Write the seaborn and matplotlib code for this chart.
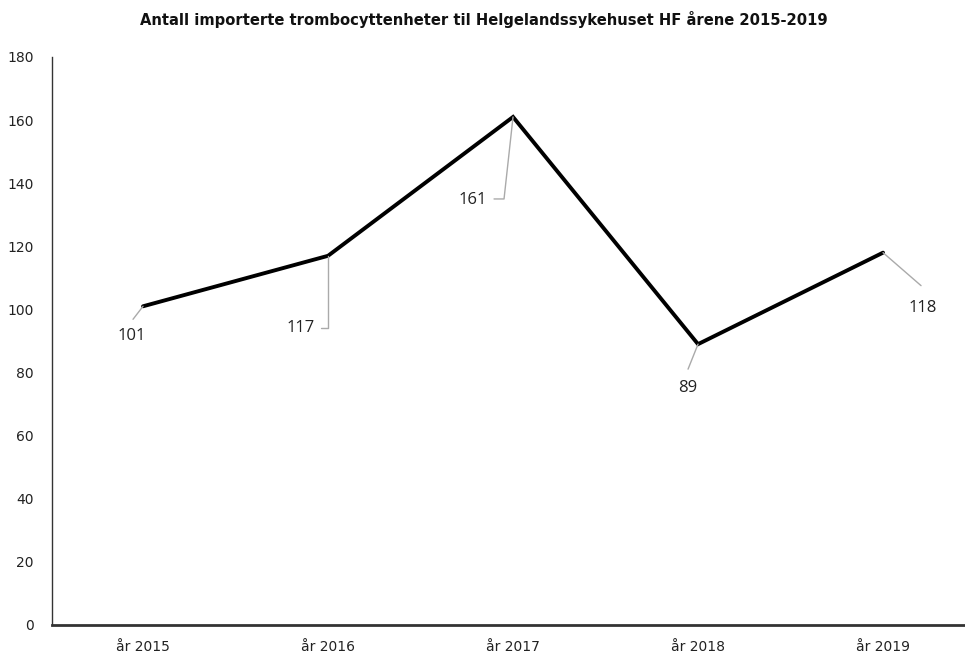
import matplotlib
matplotlib.use("Agg")
import matplotlib.pyplot as plt
import matplotlib.transforms as mtrans
import seaborn as sns
import pandas as pd

categories = ["år 2015", "år 2016", "år 2017", "år 2018", "år 2019"]
values = [101, 117, 161, 89, 118]
yticks = [0, 20, 40, 60, 80, 100, 120, 140, 160, 180]
title = "Antall importerte trombocyttenheter til Helgelandssykehuset HF årene 2015-2019"

sns.set_theme(style="white")
plt.rcParams['font.family'] = ['DejaVu Sans']

df = pd.DataFrame({"pos": range(len(categories)), "value": values})

fig = plt.figure(figsize=(9.65, 6.57), dpi=100)
ax = fig.add_axes([52/965, 32/657, 1 - 52/965, (625-57)/657])

sns.lineplot(data=df, x="pos", y="value", ax=ax, color="black", linewidth=2.8,
             solid_joinstyle="miter")

ax.set_xlim(-0.492, 4.443)
ax.set_ylim(0, 180)
ax.set_yticks(yticks)
ax.set_yticklabels([str(t) for t in yticks], fontsize=10, color="#222222")
ax.set_xticks(range(len(categories)))
ax.set_xticklabels(categories, fontsize=10, color="#222222")
ax.tick_params(axis="x", length=0, pad=11)
ax.tick_params(axis="y", length=0, pad=13)
ax.set_xlabel("")
ax.set_ylabel("")
for s in ["top", "right"]:
    ax.spines[s].set_visible(False)
ax.spines["left"].set_color("#333333")
ax.spines["left"].set_linewidth(1.0)
ax.spines["bottom"].set_color("#333333")
ax.spines["bottom"].set_linewidth(2.0)

fig.text(484/965, 1 - 20/657, title, ha="center", va="center", fontsize=10.6,
         fontweight="bold", color="#111111")

# leader line paths (pixel offsets, y up) and label offsets
leaders = [
    [(0, 0), (-10, -13)],
    [(0, 0), (0, -72), (-7, -72)],
    [(0, 0), (-9, -82), (-19, -82)],
    [(0, 0), (-10, -25)],
    [(0, 0), (38, -33)],
]
label_off = [(-11, -30), (-27, -72), (-40, -83), (-10, -44), (40, -55)]

for i, v in enumerate(values):
    xs = []
    ys = []
    for dx, dy in leaders[i]:
        tr = mtrans.offset_copy(ax.transData, fig=fig, x=dx, y=dy, units="dots")
        pt = tr.transform((i, v))
        xs.append(pt[0]); ys.append(pt[1])
    fig.add_artist(plt.Line2D(xs, ys, transform=None, color="#aaaaaa", linewidth=1.0))
    lx, ly = label_off[i]
    tr = mtrans.offset_copy(ax.transData, fig=fig, x=lx, y=ly, units="dots")
    ax.text(i, v, str(v), transform=tr, ha="center", va="center", fontsize=12,
            color="#222222", family=["Open Sans", "DejaVu Sans"])

fig.savefig("out.png", dpi=100)
